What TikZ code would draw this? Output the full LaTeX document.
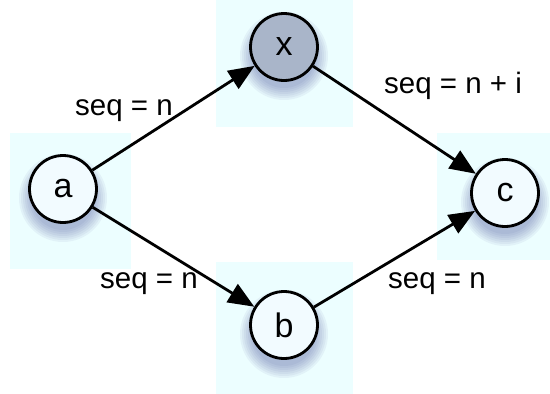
\documentclass[tikz,border=0pt]{standalone}
\usepackage{fontspec}
\setmainfont{Liberation Sans}
\usetikzlibrary{arrows.meta,calc}
\definecolor{bgcyan}{HTML}{ECFEFF}
\definecolor{nodefill}{HTML}{F2FBFF}
\definecolor{xfill}{HTML}{A9B5C9}
\definecolor{shadowblue}{HTML}{3A4290}
\tikzset{
  lbl/.style={font=\fontsize{29.5}{33}\selectfont, inner sep=0pt, anchor=base west},
  vertex/.style={circle, draw=black, line width=2.8pt, minimum size=67pt, inner sep=0pt,
    fill=nodefill, font=\fontsize{34}{38}\selectfont},
  bgbox/.style={fill=bgcyan, draw=none},
  conn/.style={line width=2.8pt, -{Triangle[length=26pt,width=21pt]}},
  shadowdisc/.style={fill=shadowblue, opacity=0.06, draw=none},
}
\newcommand\softshadow[1]{%
  \foreach \rr in {44,42,40,38,36,34,32}{%
    \fill[shadowdisc] ($(#1)+(0,9)$) circle (\rr);
  }%
}
\begin{document}
\begin{tikzpicture}[x=1pt,y=-1pt]
\useasboundingbox (0,0) rectangle (550,394);
% background boxes
\fill[bgbox] (216,0) rectangle (353,127);
\fill[bgbox] (10,133) rectangle (131,269);
\fill[bgbox] (437,133) rectangle (550,260);
\fill[bgbox] (216,262) rectangle (353,394);
% centres
\coordinate (xc) at (284,47);
\coordinate (ac) at (63,189);
\coordinate (cc) at (505,193);
\coordinate (bc) at (284,325);
% shadows
\softshadow{xc}
\softshadow{ac}
\softshadow{cc}
\softshadow{bc}
% nodes
\node[vertex, fill=xfill] (x) at (xc) {x};
\node[vertex] (a) at (ac) {a};
\node[vertex] (c) at (cc) {c};
\node[vertex] (b) at (bc) {b};
% edges
\draw[conn] (a) -- (x);
\draw[conn] (x) -- (c);
\draw[conn] (a) -- (b);
\draw[conn] (b) -- (c);
% labels
\node[lbl] (l1) at (75,115) {seq = n};
\node[lbl] (l2) at (384,93) {seq = n + i};
\node[lbl] (l3) at (100,288) {seq = n};
\node[lbl] (l4) at (388,288) {seq = n};
\end{tikzpicture}
\end{document}
